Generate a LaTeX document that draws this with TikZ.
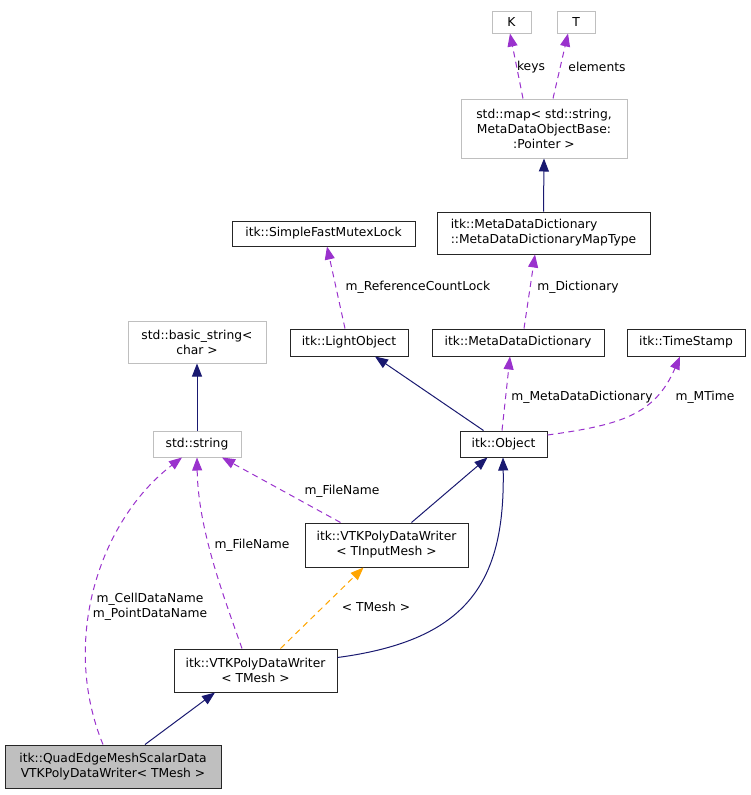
\documentclass[tikz,border=0pt]{standalone}
\usepackage{fontspec}
\setmainfont{DejaVu Sans}
\usetikzlibrary{arrows.meta,positioning}
\definecolor{EdgeNavy}{RGB}{25,25,112}
\definecolor{MemberPurple}{RGB}{154,50,205}
\definecolor{TmplOrange}{RGB}{255,165,0}
\definecolor{ExtGray}{RGB}{191,191,191}

\begin{document}
\begin{tikzpicture}[x=1pt,y=-1pt,
    font=\fontsize{12.3}{15}\selectfont,
    cls/.style={draw=black!85,line width=1pt,fill=white,inner sep=0pt,align=center},
    ext/.style={cls,draw=ExtGray},
    self/.style={cls,fill=ExtGray},
    inherit/.style={draw=EdgeNavy,line width=1pt,-{Triangle[length=13pt,width=10pt]}},
    member/.style={draw=MemberPurple,line width=1pt,dash pattern=on 6pt off 4.5pt,
      -{Triangle[length=13pt,width=10pt]}},
    tmpl/.style={member,draw=TmplOrange},
    lbl/.style={inner sep=0pt,align=center}]
  \useasboundingbox (0,0) rectangle (751,795);
  % classes
  \node[ext,minimum width=39,minimum height=22] (K) at (511.5,22) {K};
  \node[ext,minimum width=38,minimum height=22] (T) at (576,22) {T};
  \node[ext,minimum width=166,minimum height=59] (map) at (544,128.5)
    {std::map< std::string,\\ MetaDataObjectBase:\\:Pointer >};
  \node[cls,minimum width=213,minimum height=42,align=left] (mapType) at (543.5,233)
    {itk::MetaDataDictionary\\::MetaDataDictionaryMapType};
  \node[cls,minimum width=183,minimum height=25] (mutex) at (323.5,233.5)
    {itk::SimpleFastMutexLock};
  \node[ext,minimum width=138,minimum height=42] (basicStr) at (197,342)
    {std::basic\_string<\\char >};
  \node[cls,minimum width=118,minimum height=27] (light) at (349,342.5) {itk::LightObject};
  \node[cls,minimum width=172,minimum height=27] (dict) at (518,342.5) {itk::MetaDataDictionary};
  \node[cls,minimum width=118,minimum height=27] (stamp) at (686,342.5) {itk::TimeStamp};
  \node[ext,minimum width=88,minimum height=26] (str) at (197,444) {std::string};
  \node[cls,minimum width=87,minimum height=26] (obj) at (503.5,444) {itk::Object};
  \node[cls,minimum width=163,minimum height=44] (inWriter) at (386.5,545)
    {itk::VTKPolyDataWriter\\< TInputMesh >};
  \node[cls,minimum width=163,minimum height=43] (writer) at (255.5,670.5)
    {itk::VTKPolyDataWriter\\< TMesh >};
  \node[self,minimum width=216,minimum height=43] (quad) at (113,766.5)
    {itk::QuadEdgeMeshScalarData\\VTKPolyDataWriter< TMesh >};

  % inheritance
  \draw[inherit] (mapType.north) -- (map.south);
  \draw[inherit] (str.north) -- (basicStr.south);
  \draw[inherit] ([xshift=-20pt]obj.north) -- ([xshift=26pt]light.south);
  \draw[inherit] ([xshift=25pt]inWriter.north) -- ([xshift=-16pt]obj.south);
  \draw[inherit] ([yshift=13pt]writer.east) .. controls (470,640) and (505,580)
    .. ([xshift=-0.5pt]obj.south);
  \draw[inherit] ([xshift=32pt]quad.north) -- ([xshift=-40.5pt]writer.south);

  % members
  \draw[member] ([xshift=-21pt]map.north) -- ([xshift=-1.5pt]K.south);
  \draw[member] ([xshift=9pt]map.north) -- ([xshift=-8pt]T.south);
  \draw[member] ([xshift=6pt]dict.north) -- ([xshift=-8.5pt]mapType.south);
  \draw[member] ([xshift=-4pt]light.north) -- ([xshift=3.5pt]mutex.south);
  \draw[member] ([xshift=-1.5pt]obj.north) -- ([xshift=-8pt]dict.south);
  \draw[member] ([yshift=9pt]obj.east) .. controls (620,425) and (655,415)
    .. ([xshift=-6pt]stamp.south);
  \draw[member] ([xshift=-46pt]inWriter.north) -- ([xshift=25pt]str.south);
  \draw[member] ([xshift=-13.5pt]writer.north) .. controls (225,600) and (198,530)
    .. (str.south);
  \draw[member] ([xshift=-10pt]quad.north) .. controls (60,640) and (100,520)
    .. ([xshift=-15pt]str.south);
  \draw[tmpl] ([xshift=25pt]writer.north) -- ([xshift=-23pt]inWriter.south);

  % edge labels
  \node[lbl] (lKeys) at (531,67) {keys};
  \node[lbl] (lElems) at (597,67) {elements};
  \node[lbl] (lDict) at (578,287) {m\_Dictionary};
  \node[lbl] (lLock) at (418,287) {m\_ReferenceCountLock};
  \node[lbl] (lMdd) at (582,397) {m\_MetaDataDictionary};
  \node[lbl] (lTime) at (705,397) {m\_MTime};
  \node[lbl] (lFileA) at (342,491) {m\_FileName};
  \node[lbl] (lFileB) at (252,545) {m\_FileName};
  \node[lbl] (lTmpl) at (376,607) {< TMesh >};
  \node[lbl] (lNames) at (150,607) {m\_CellDataName\\m\_PointDataName};
\end{tikzpicture}
\end{document}
